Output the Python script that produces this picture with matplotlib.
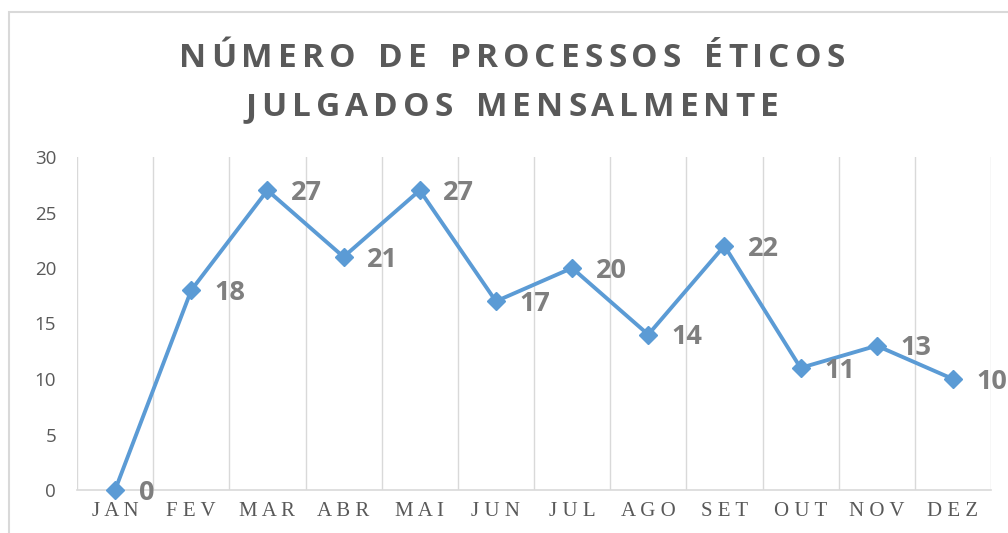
import matplotlib.pyplot as plt
from matplotlib.patches import Rectangle

months = ["JAN", "FEV", "MAR", "ABR", "MAI", "JUN", "JUL", "AGO", "SET", "OUT", "NOV", "DEZ"]
processos = [0, 18, 27, 21, 27, 17, 20, 14, 22, 11, 13, 10]
title_lines = ["NÚMERO DE PROCESSOS ÉTICOS", "JULGADOS MENSALMENTE"]

line_color = "#5B9BD5"
grid_color = "#D9D9D9"
text_gray = "#595959"
label_gray = "#7F7F7F"

W, H = 1008, 533
fig = plt.figure(figsize=(W / 100, H / 100), dpi=100)
ax = fig.add_axes([77 / W, 43 / H, 914 / W, 333 / H])

# chart border (cropped on right / bottom in the reference)
fig.patches.append(Rectangle((9 / W, -0.1), 1.2, (H - 12) / H + 0.1,
                             transform=fig.transFigure, fill=False,
                             edgecolor=grid_color, linewidth=1.5))


def spaced_text(s, xc, y, spacing, space_w, **kw):
    # draw text letter by letter to mimic Excel's character spacing
    r = fig.canvas.get_renderer()
    widths = []
    for ch in s:
        if ch == " ":
            widths.append(space_w)
            continue
        t = fig.text(0, 0, ch, **kw)
        widths.append(t.get_window_extent(r).width)
        t.remove()
    total = sum(widths) + spacing * (len(s) - 1)
    xp = xc - total / 2
    for ch, w in zip(s, widths):
        if ch != " ":
            fig.text(xp / W, 1 - y / H, ch, ha="left", va="baseline", **kw)
        xp += w + spacing


x = list(range(len(months)))
ax.plot(x, processos, color=line_color, linewidth=2.8, marker="D",
        markersize=9, zorder=3, clip_on=False)

for xi, v in zip(x, processos):
    ax.annotate(str(v), (xi, v), xytext=(17, -2), textcoords="offset points",
                ha="left", va="center", fontsize=19.5, fontweight="bold",
                color=label_gray, family="Open Sans", annotation_clip=False)

ax.set_xlim(-0.5, 11.5)
ax.set_ylim(0, 30)
ax.set_yticks(range(0, 31, 5))
ax.set_xticks(x)
ax.set_xticklabels([" ".join(m) for m in months], family="Liberation Serif",
                   fontsize=15, color=text_gray)
for lbl in ax.get_yticklabels():
    lbl.set_family("Open Sans")
    lbl.set_fontsize(13.5)
    lbl.set_color(text_gray)
ax.tick_params(axis="both", length=0)
ax.tick_params(axis="y", pad=15)
ax.tick_params(axis="x", pad=9)

for b in [i - 0.5 for i in range(len(months) + 1)]:
    ax.axvline(b, color=grid_color, linewidth=1, zorder=0)

for s in ["top", "right", "left"]:
    ax.spines[s].set_visible(False)
ax.spines["bottom"].set_color(grid_color)
ax.spines["bottom"].set_linewidth(1.2)

title_kw = dict(fontsize=24, fontweight="bold", color=text_gray, family="Open Sans")
spaced_text(title_lines[0], 512, 67, 5, 13, **title_kw)
spaced_text(title_lines[1], 512, 116, 5, 13, **title_kw)

fig.savefig("out.png", dpi=100)
